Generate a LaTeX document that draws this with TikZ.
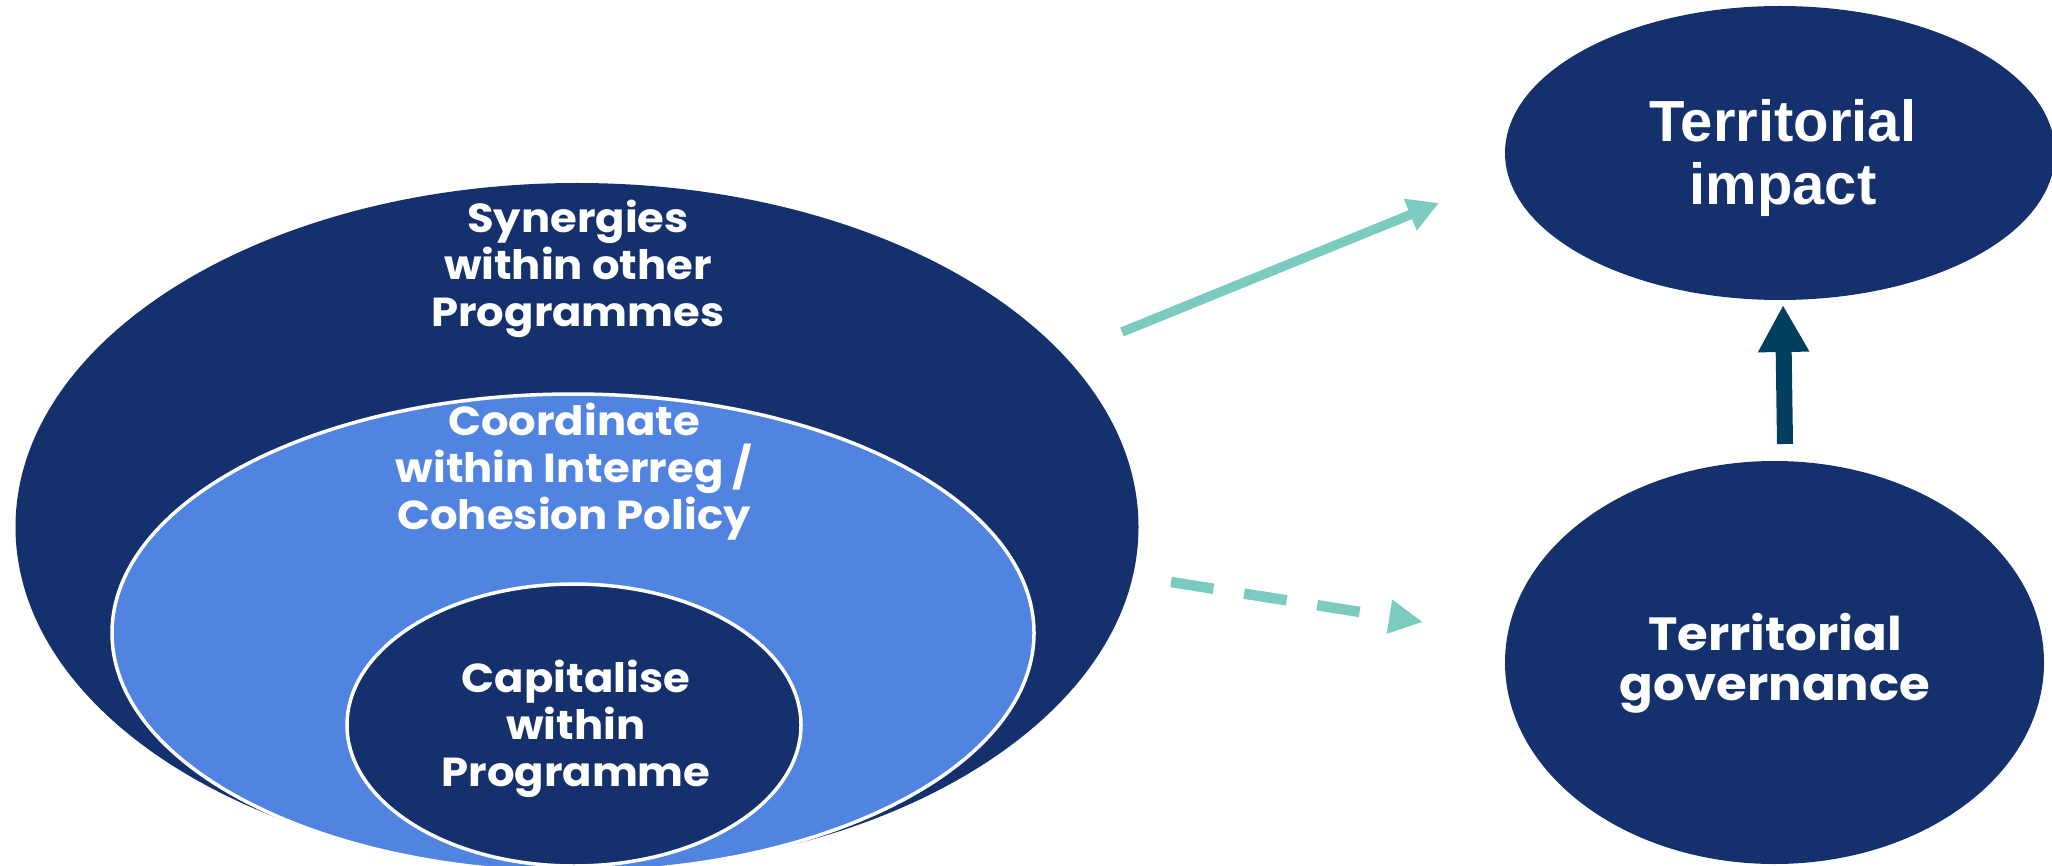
\documentclass[tikz,border=0pt]{standalone}
\usepackage{fontspec}
\setmainfont{Poppins}[FakeStretch=1.07]
\newfontfamily\arialfont{Liberation Sans}
\usetikzlibrary{arrows.meta}
\definecolor{navy}{HTML}{15316D}
\definecolor{midblue}{HTML}{5184E0}
\definecolor{teal}{HTML}{7BCBC1}
\definecolor{darkteal}{HTML}{023F5E}
\tikzset{
  lefttext/.style={text=white, align=center, inner sep=0pt, font=\fontsize{40.5}{47}\selectfont\bfseries},
  govtext/.style={text=white, align=center, inner sep=0pt, font=\fontsize{46.5}{50}\selectfont\bfseries},
  imptext/.style={text=white, align=center, inner sep=0pt, font=\arialfont\fontsize{58}{63}\selectfont\bfseries},
  solidarrow/.style={draw=teal, line width=9.5pt, -{Triangle[length=31pt, width=32pt]}},
  dasharrow/.style={draw=teal, line width=10.5pt, dash pattern=on 43pt off 31pt, -{Triangle[length=34pt, width=32pt]}},
  uparrow/.style={draw=darkteal, line width=16pt, -{Triangle[length=47pt, width=48pt]}},
}
\begin{document}
\begin{tikzpicture}[x=1pt, y=-1pt]
\useasboundingbox (0,0) rectangle (2052,866);
\clip (0,0) rectangle (2052,866);
% ellipses
\fill[navy] (577,527) ellipse [x radius=561.5, y radius=344];
\filldraw[fill=midblue, draw=white, line width=3.5pt] (573,633) ellipse [x radius=461, y radius=239];
\filldraw[fill=navy, draw=white, line width=3.5pt] (574,725) ellipse [x radius=227, y radius=141];
\fill[navy] (1780,153) ellipse [x radius=275, y radius=147];
\fill[navy] (1774.5,662.5) ellipse [x radius=269.5, y radius=201.5];
% texts
\node[lefttext] (syn) at (578,268.5) {Synergies\\within other\\Programmes};
\node[lefttext] (coord) at (574,471.5) {Coordinate\\within Interreg /\\Cohesion Policy};
\node[lefttext] (cap) at (576,729) {Capitalise\\within\\Programme};
\node[govtext] (gov) at (1775,663.5) {Territorial\\governance};
\node[imptext] (imp) at (1783,158.5) {Territorial\\impact};
% arrow end points
\coordinate (s1) at (1122,332);
\coordinate (s2) at (1439,203);
\coordinate (d1) at (1171,582);
\coordinate (d2) at (1423,622);
\coordinate (u1) at (1785,444);
\coordinate (u2) at (1783,305);
\draw[solidarrow] (s1) -- (s2);
\draw[dasharrow] (d1) -- (d2);
\draw[uparrow] (u1) -- (u2);
\end{tikzpicture}
\end{document}
